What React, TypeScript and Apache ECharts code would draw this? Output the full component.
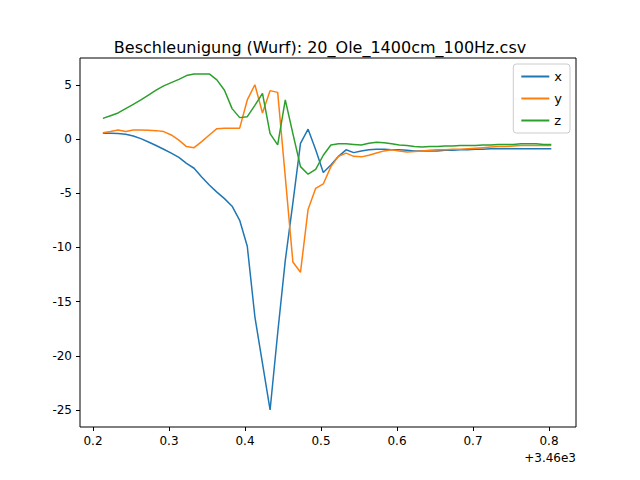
import React, { useEffect, useRef } from "react";
import * as echarts from "echarts";

const xStart = 0.213;
const xs = [
  0.52, 0.52, 0.5, 0.43, 0.28, 0.03, -0.28, -0.6, -0.95, -1.3, -1.7, -2.25, -2.7, -3.5, -4.25, -4.9, -5.5, -6.2, -7.5, -9.9,
  -16.4, -20.7, -25, -17.9, -11.2, -5.9, -0.4, 0.9, -1.0, -3.1, -2.4, -1.6, -1.0, -1.26,
  -1.1, -1.0, -0.95, -0.95, -1.0, -1.0, -1.05, -1.1, -1.1, -1.1, -1.1, -1.05, -1.05, -1.0, -1.0, -0.95, -0.95, -0.9, -0.9,
  -0.9, -0.9, -0.9, -0.9, -0.9, -0.9, -0.9,
];
const ys = [
  0.58, 0.68, 0.83, 0.68, 0.83, 0.83, 0.8, 0.77, 0.68, 0.37, -0.1, -0.7, -0.8, -0.25, 0.37, 0.95, 1.0, 1.0, 1.0, 3.6,
  5.0, 2.4, 4.46, 4.3, -3.5, -11.35, -12.3, -6.5, -4.55, -4.15, -2.55, -1.6, -1.3, -1.6,
  -1.65, -1.5, -1.3, -1.1, -1.0, -1.1, -1.2, -1.15, -1.1, -1.05, -1.0, -1.0, -0.95, -0.95, -0.9, -0.85, -0.8, -0.75, -0.7,
  -0.7, -0.65, -0.6, -0.6, -0.6, -0.6, -0.6,
];
const zs = [
  1.9, 2.15, 2.4, 2.8, 3.2, 3.6, 4.05, 4.5, 4.9, 5.2, 5.5, 5.85, 6.0, 6.0, 6.0, 5.45, 4.5, 2.8, 1.97, 2.06,
  3.1, 4.2, 0.5, -0.55, 3.6, 0.5, -2.55, -3.25, -2.8, -1.5, -0.55, -0.45, -0.45, -0.5,
  -0.55, -0.4, -0.3, -0.35, -0.45, -0.55, -0.6, -0.7, -0.75, -0.7, -0.7, -0.65, -0.65, -0.6, -0.6, -0.6, -0.55, -0.55, -0.5,
  -0.5, -0.5, -0.45, -0.45, -0.45, -0.5, -0.5,
];
const xTicks = [0.2, 0.3, 0.4, 0.5, 0.6, 0.7, 0.8];
const yTicks = [-25, -20, -15, -10, -5, 0, 5];

export default function App() {
  const ref = useRef<HTMLDivElement>(null);
  useEffect(() => {
    document.body.style.margin = "0";
    const chart = echarts.init(ref.current!, null, { renderer: "svg" });
    const mk = (arr: number[]) => arr.map((v, i) => [+(xStart + 0.01 * i).toFixed(3), v]);
    const font = "DejaVu Sans";
    const L = 80, R = 576, T = 58, B = 427;
    chart.setOption({
      animation: false,
      textStyle: { fontFamily: font },
      title: {
        text: "Beschleunigung (Wurf): 20_Ole_1400cm_100Hz.csv",
        left: "center", top: 34,
        textStyle: { fontFamily: font, fontSize: 16, fontWeight: "normal", color: "#000" },
      },
      legend: {
        orient: "vertical", right: 70, top: 64, itemWidth: 28, itemHeight: 2, itemGap: 9,
        icon: "rect", borderColor: "#ccc", borderWidth: 1, borderRadius: 3, padding: [6, 8, 6, 8],
        textStyle: { fontFamily: font, fontSize: 13, color: "#000" },
        data: ["x", "y", "z"],
      },
      grid: { left: L, right: 640 - R, top: T, bottom: 480 - B },
      xAxis: {
        type: "value", min: 0.1829, max: 0.8355,
        axisLine: { show: false, onZero: false },
        splitLine: { show: false },
        axisTick: { show: true, inside: false, length: 4, lineStyle: { color: "#000" }, customValues: xTicks },
        axisLabel: { color: "#000", fontSize: 12, fontFamily: font, customValues: xTicks, formatter: (v: number) => v.toFixed(1) },
      },
      yAxis: {
        type: "value", min: -26.57, max: 7.47,
        axisLine: { show: false, onZero: false },
        splitLine: { show: false },
        axisTick: { show: true, length: 4, lineStyle: { color: "#000" }, customValues: yTicks },
        axisLabel: { color: "#000", fontSize: 12, fontFamily: font, customValues: yTicks },
      },
      graphic: [
        { type: "rect", shape: { x: L, y: T, width: R - L, height: B - T }, style: { fill: "none", stroke: "#000", lineWidth: 1 }, z: 10 },
        { type: "text", right: 64, top: 452, style: { text: "+3.46e3", fontSize: 12, fontFamily: font, fill: "#000" } },
      ],
      series: [
        { name: "x", type: "line", data: mk(xs), showSymbol: false, lineStyle: { width: 1.5, color: "#1f77b4" }, itemStyle: { color: "#1f77b4" } },
        { name: "y", type: "line", data: mk(ys), showSymbol: false, lineStyle: { width: 1.5, color: "#ff7f0e" }, itemStyle: { color: "#ff7f0e" } },
        { name: "z", type: "line", data: mk(zs), showSymbol: false, lineStyle: { width: 1.5, color: "#2ca02c" }, itemStyle: { color: "#2ca02c" } },
      ],
    });
    return () => chart.dispose();
  }, []);
  return <div ref={ref} style={{ width: 640, height: 480 }} />;
}
